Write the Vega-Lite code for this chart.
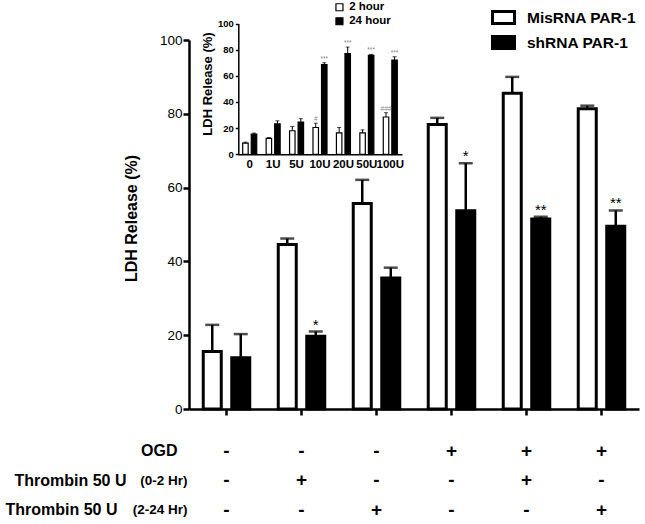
{
  "$schema": "https://vega.github.io/schema/vega-lite/v6.json",
  "width": 450,
  "height": 369,
  "autosize": {"type": "none"},
  "padding": {"left": 189, "top": 40, "right": 6, "bottom": 115},
  "background": "white",
  "config": {
    "view": {"stroke": null},
    "font": "Liberation Sans",
    "axis": {"grid": false, "domainColor": "black", "tickColor": "black", "labelColor": "black", "titleColor": "black", "labelFont": "Liberation Sans", "titleFont": "Liberation Sans"},
    "legend": {"labelFont": "Liberation Sans", "labelColor": "black"}
  },
  "datasets": {
    "main": [
      {"g": "1", "s": "MisRNA PAR-1", "v": 15.6, "hi": 22.8, "sig": ""},
      {"g": "1", "s": "shRNA PAR-1", "v": 13.9, "hi": 20.3, "sig": ""},
      {"g": "2", "s": "MisRNA PAR-1", "v": 44.6, "hi": 46.2, "sig": ""},
      {"g": "2", "s": "shRNA PAR-1", "v": 19.7, "hi": 21.0, "sig": "*"},
      {"g": "3", "s": "MisRNA PAR-1", "v": 55.7, "hi": 62.1, "sig": ""},
      {"g": "3", "s": "shRNA PAR-1", "v": 35.5, "hi": 38.3, "sig": ""},
      {"g": "4", "s": "MisRNA PAR-1", "v": 77.1, "hi": 78.9, "sig": ""},
      {"g": "4", "s": "shRNA PAR-1", "v": 53.7, "hi": 66.6, "sig": "*"},
      {"g": "5", "s": "MisRNA PAR-1", "v": 85.6, "hi": 90.0, "sig": ""},
      {"g": "5", "s": "shRNA PAR-1", "v": 51.5, "hi": 52.1, "sig": "**"},
      {"g": "6", "s": "MisRNA PAR-1", "v": 81.4, "hi": 82.2, "sig": ""},
      {"g": "6", "s": "shRNA PAR-1", "v": 49.5, "hi": 53.8, "sig": "**"}
    ],
    "table": [
      {"g": "1", "row": "OGD", "sign": "-"}, {"g": "2", "row": "OGD", "sign": "-"}, {"g": "3", "row": "OGD", "sign": "-"},
      {"g": "4", "row": "OGD", "sign": "+"}, {"g": "5", "row": "OGD", "sign": "+"}, {"g": "6", "row": "OGD", "sign": "+"},
      {"g": "1", "row": "T1", "sign": "-"}, {"g": "2", "row": "T1", "sign": "+"}, {"g": "3", "row": "T1", "sign": "-"},
      {"g": "4", "row": "T1", "sign": "-"}, {"g": "5", "row": "T1", "sign": "+"}, {"g": "6", "row": "T1", "sign": "-"},
      {"g": "1", "row": "T2", "sign": "-"}, {"g": "2", "row": "T2", "sign": "-"}, {"g": "3", "row": "T2", "sign": "+"},
      {"g": "4", "row": "T2", "sign": "-"}, {"g": "5", "row": "T2", "sign": "-"}, {"g": "6", "row": "T2", "sign": "+"}
    ],
    "inset": [
      {"d": "0", "s": "2 hour", "v": 8.5, "hi": 9.3, "sig": ""},
      {"d": "0", "s": "24 hour", "v": 15.4, "hi": 16.2, "sig": ""},
      {"d": "1U", "s": "2 hour", "v": 12.1, "hi": 12.8, "sig": ""},
      {"d": "1U", "s": "24 hour", "v": 23.3, "hi": 25.6, "sig": ""},
      {"d": "5U", "s": "2 hour", "v": 18.0, "hi": 21.3, "sig": ""},
      {"d": "5U", "s": "24 hour", "v": 24.6, "hi": 27.2, "sig": ""},
      {"d": "10U", "s": "2 hour", "v": 20.5, "hi": 23.8, "sig": "#"},
      {"d": "10U", "s": "24 hour", "v": 68.5, "hi": 70.0, "sig": "***"},
      {"d": "20U", "s": "2 hour", "v": 16.4, "hi": 20.5, "sig": ""},
      {"d": "20U", "s": "24 hour", "v": 76.9, "hi": 82.0, "sig": "***"},
      {"d": "50U", "s": "2 hour", "v": 16.4, "hi": 18.7, "sig": ""},
      {"d": "50U", "s": "24 hour", "v": 75.6, "hi": 76.4, "sig": "***"},
      {"d": "100U", "s": "2 hour", "v": 28.5, "hi": 31.8, "sig": "###"},
      {"d": "100U", "s": "24 hour", "v": 72.0, "hi": 74.6, "sig": "***"}
    ]
  },
  "layer": [
    {
      "layer": [
        {
          "data": {"name": "main"},
          "encoding": {
            "x": {"field": "g", "type": "nominal", "sort": null, "scale": {"paddingInner": 0, "paddingOuter": 0},
                  "axis": {"orient": "bottom", "labels": false, "title": null, "tickSize": 6, "tickWidth": 2.5, "domainWidth": 2.5}},
            "xOffset": {"field": "s", "type": "nominal", "scale": {"domain": ["MisRNA PAR-1", "shRNA PAR-1"], "paddingInner": 0.368, "paddingOuter": 0.5}}
          },
          "layer": [
            {
              "mark": {"type": "bar", "stroke": "black", "strokeWidth": 3},
              "encoding": {
                "y": {"field": "v", "type": "quantitative", "scale": {"domain": [0, 100], "nice": false},
                      "axis": {"orient": "left", "values": [0, 20, 40, 60, 80, 100], "title": "LDH Release (%)", "titleFontSize": 16, "titleFontWeight": "bold", "titlePadding": 20, "titleY": 178,
                               "labelFontSize": 13.5, "labelPadding": 1, "tickSize": 6, "tickWidth": 2.5, "domainWidth": 2.5}},
                "fill": {"field": "s", "type": "nominal", "scale": {"domain": ["MisRNA PAR-1", "shRNA PAR-1"], "range": ["white", "black"]},
                         "legend": {"orient": "none", "legendX": 302, "legendY": -35, "title": null, "padding": 0,
                                    "symbolType": "M-1,-0.55H1V0.55H-1Z", "symbolSize": 484, "symbolStrokeWidth": 3, "symbolStrokeColor": "black",
                                    "labelFontSize": 15.5, "labelFontWeight": "bold", "labelOffset": 11, "rowPadding": 0}}
              }
            },
            {
              "mark": {"type": "rule", "strokeWidth": 2.5, "color": "black"},
              "encoding": {"y": {"field": "v", "type": "quantitative"}, "y2": {"field": "hi"}}
            },
            {
              "mark": {"type": "tick", "size": 14, "thickness": 2.5, "color": "black"},
              "encoding": {"y": {"field": "hi", "type": "quantitative"}}
            },
            {
              "mark": {"type": "text", "fontSize": 15, "baseline": "alphabetic", "dy": -2, "color": "black"},
              "encoding": {"y": {"field": "hi", "type": "quantitative"}, "text": {"field": "sig"}}
            }
          ]
        },
        {
          "data": {"name": "table"},
          "mark": {"type": "text", "fontSize": 19, "fontWeight": "bold", "baseline": "middle", "color": "black"},
          "encoding": {
            "x": {"field": "g", "type": "nominal", "sort": null},
            "y": {"field": "row", "type": "nominal", "scale": {"type": "point", "domain": ["OGD", "T1", "T2"], "range": [410.5, 469.5], "padding": 0},
                  "axis": {"orient": "left", "domain": false, "ticks": false, "title": null,
                           "labelExpr": "datum.value == 'OGD' ? 'OGD' : (datum.value == 'T1' ? '(0-2 Hr)' : '(2-24 Hr)')",
                           "labelFontWeight": "bold",
                           "labelFontSize": {"condition": {"test": "datum.value == 'OGD'", "value": 16}, "value": 13.5},
                           "labelPadding": {"condition": {"test": "datum.value == 'OGD'", "value": 12}, "value": 2}}},
            "text": {"field": "sign"}
          }
        },
        {
          "data": {"name": "table"},
          "mark": {"type": "text", "opacity": 0},
          "encoding": {
            "x": {"field": "g", "type": "nominal", "sort": null},
            "y": {"field": "row", "type": "nominal", "scale": {"type": "point", "domain": ["OGD", "T1", "T2"], "range": [410.5, 469.5], "padding": 0},
                  "axis": {"orient": "left", "domain": false, "ticks": false, "title": null,
                           "labelExpr": "datum.value == 'OGD' ? '' : 'Thrombin 50 U'",
                           "labelFontWeight": "bold", "labelFontSize": 16,
                           "labelPadding": {"condition": {"test": "datum.value == 'T1'", "value": 63}, "value": 72}}},
            "text": {"field": "sign"}
          }
        }
      ],
      "resolve": {"scale": {"y": "independent"}, "axis": {"y": "independent"}}
    },
    {
      "data": {"name": "inset"},
      "encoding": {
        "x": {"field": "d", "type": "nominal", "sort": null, "scale": {"range": [49, 213], "paddingInner": 0, "paddingOuter": 0},
              "axis": {"orient": "bottom", "offset": -254.7, "title": null, "ticks": false, "labelPadding": 4, "labelAngle": 0,
                       "labelFontSize": 11.5, "labelFontWeight": "bold", "domainWidth": 1.5}},
        "xOffset": {"field": "s", "type": "nominal", "scale": {"domain": ["2 hour", "24 hour"], "paddingInner": 0.36, "paddingOuter": 0.55}}
      },
      "layer": [
        {
          "mark": {"type": "bar", "stroke": "black", "strokeWidth": 1.2},
          "encoding": {
            "y": {"field": "v", "type": "quantitative", "scale": {"domain": [0, 100], "nice": false, "range": [114.3, -16.5]},
                  "axis": {"orient": "left", "offset": -49.3, "values": [0, 20, 40, 60, 80, 100], "title": "LDH Release (%)", "titleFontSize": 13, "titleFontWeight": "bold", "titlePadding": 3, "titleY": 43.5,
                           "labelFontSize": 9.5, "labelFontWeight": "bold", "labelPadding": 2, "tickSize": 3, "tickWidth": 1.5, "domainWidth": 1.5}},
            "fill": {"field": "s", "type": "nominal", "scale": {"domain": ["2 hour", "24 hour"], "range": ["white", "black"]},
                     "legend": {"orient": "none", "legendX": 144.7, "legendY": -38.5, "title": null, "padding": 0,
                                "symbolType": "square", "symbolSize": 49, "symbolStrokeWidth": 1.2, "symbolStrokeColor": "black",
                                "labelFontSize": 11.5, "labelFontWeight": "bold", "labelOffset": 4, "rowPadding": 1}}
          }
        },
        {
          "mark": {"type": "rule", "strokeWidth": 1, "color": "black"},
          "encoding": {"y": {"field": "v", "type": "quantitative"}, "y2": {"field": "hi"}}
        },
        {
          "mark": {"type": "tick", "size": 4, "thickness": 1, "color": "black"},
          "encoding": {"y": {"field": "hi", "type": "quantitative"}}
        },
        {
          "mark": {"type": "text", "fontSize": 6.5, "baseline": "bottom", "dy": -1, "color": "#888888"},
          "encoding": {"y": {"field": "hi", "type": "quantitative"}, "text": {"field": "sig"}}
        }
      ]
    }
  ],
  "resolve": {
    "scale": {"x": "independent", "y": "independent", "xOffset": "independent", "fill": "independent"},
    "axis": {"x": "independent", "y": "independent"},
    "legend": {"fill": "independent"}
  }
}
